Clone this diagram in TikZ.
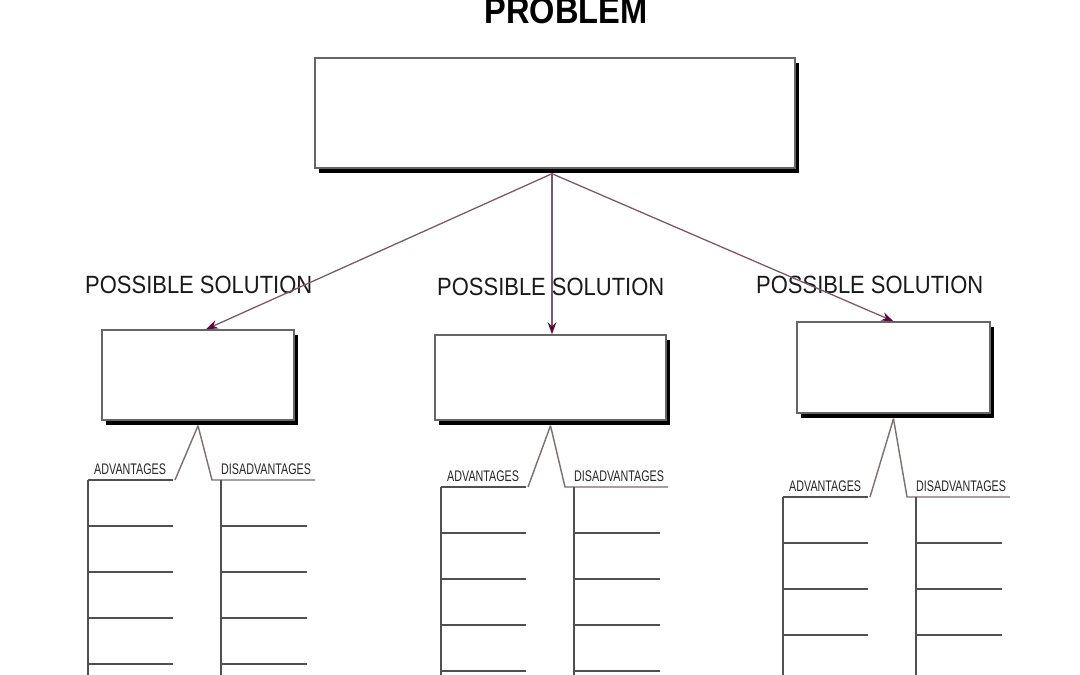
\documentclass[tikz,border=0pt]{standalone}
\usepackage{fontspec}
\setmainfont{Liberation Sans}
\newfontfamily\solfont[FakeStretch=0.88]{Liberation Sans}
\newfontfamily\colfont[FakeStretch=0.7]{Liberation Sans}
\usetikzlibrary{arrows.meta,fit,shadows}
\definecolor{linkcol}{HTML}{7A5A6A}
\definecolor{tipcol}{HTML}{5B0A3C}
\definecolor{legcol}{HTML}{7A6E6E}
\definecolor{rulecol}{HTML}{505050}
\tikzset{
	solbox/.style={draw=black!60, line width=1.2pt, fill=white, inner sep=0pt,
		drop shadow={shadow xshift=0.12cm, shadow yshift=-0.15cm, fill=black, opacity=1}},
	link/.style={draw=linkcol, line width=1.1pt, -{Stealth[length=0.36cm, width=0.26cm, color=tipcol, fill=tipcol]}},
	leg/.style={draw=legcol, line width=1.2pt},
	rule/.style={draw=rulecol, line width=1.2pt},
	sollabel/.style={anchor=base west, inner sep=0pt, font=\solfont\fontsize{21.3}{24}\selectfont, text=black!90},
	collabel/.style={anchor=base west, inner sep=0pt, font=\colfont\fontsize{13.1}{15}\selectfont, text=black!85}
}
\begin{document}
\begin{tikzpicture}[x=0.03cm, y=-0.03cm]
	% Fondo y recorte
	\fill[white] (0,0) rectangle (1080,675);
	\clip (0,0) rectangle (1080,675);
	
	% Titulo
	\node[anchor=base, inner sep=0pt, font=\solfont\bfseries\fontsize{31.6}{34}\selectfont] (title) at (566,24) {PROBLEM};
	
	% Caja del problema
	\node[solbox, fit={(315,58) (795,168)}] (problem) {};
	
	% Cajas de soluciones
	\node[solbox, fit={(102,330) (294,420)}] (solA) {};
	\node[solbox, fit={(435,335) (666,420)}] (solB) {};
	\node[solbox, fit={(797,322) (990,413)}] (solC) {};
	
	% Etiquetas de soluciones
	\node[sollabel] (labA) at (85,293) {POSSIBLE SOLUTION};
	\node[sollabel] (labB) at (437,295) {POSSIBLE SOLUTION};
	\node[sollabel] (labC) at (756,293) {POSSIBLE SOLUTION};
	
	% Flechas del problema a las soluciones
	\draw[link] ([xshift=-0.09cm, yshift=-0.15cm]problem.south) coordinate (fork) -- ([xshift=0.24cm]solA.north);
	\draw[link] (fork) -- (fork |- solB.north);
	\draw[link] (fork) -- (solC.north);
	
	% Columnas de ventajas y desventajas
	\foreach \sol/\ux/\uy in {solA/197/480, solB/550/487, solC/892/497} {
		\begin{scope}[shift={(\ux,\uy)}]
			\draw[leg] ([yshift=-0.15cm]\sol.south) -- (-22,0);
			\draw[leg] ([yshift=-0.15cm]\sol.south) -- (15,0) -- (118,0);
			\draw[rule] (-109,0) -- (-24,0);
			\draw[rule] (-109,0) -- (-109,200);
			\draw[rule] (24,0) -- (24,200);
			\foreach \r in {46,92,138,184} {
				\draw[rule] (-109,\r) -- (-24,\r);
				\draw[rule] (24,\r) -- (110,\r);
			}
			\node[collabel] (adv\sol) at (-103,-6) {ADVANTAGES};
			\node[collabel] (dis\sol) at (24,-6) {DISADVANTAGES};
		\end{scope}
	}
\end{tikzpicture}
\end{document}
